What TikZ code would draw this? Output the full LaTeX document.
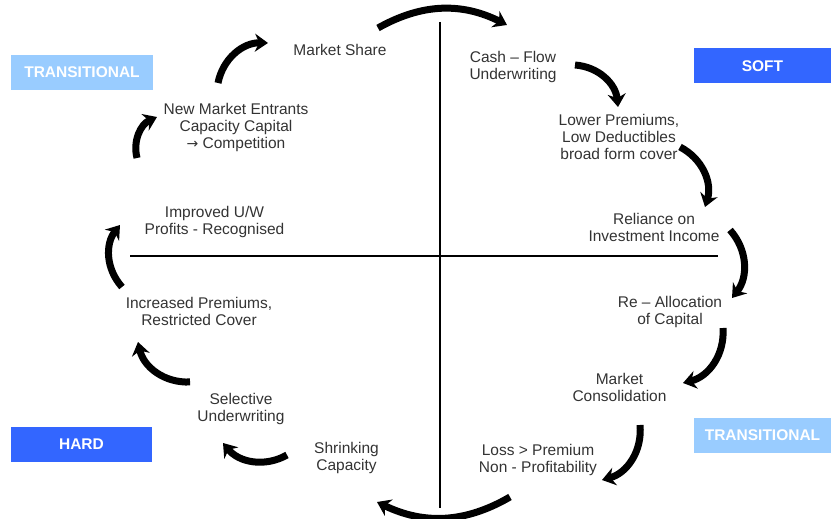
\documentclass[tikz,border=0pt]{standalone}
\usepackage{fontspec}
\setmainfont{Liberation Sans}
\newfontfamily\arrowfont{DejaVu Sans}
\usetikzlibrary{arrows.meta,positioning}
\definecolor{softblue}{HTML}{3366FF}
\definecolor{paleblue}{HTML}{99CCFF}

\begin{document}
\begin{tikzpicture}[x=1pt,y=1pt,phase/.style={align=center,inner sep=0pt,text=black!80,font=\fontsize{15.5}{17}\selectfont}, axis/.style={line width=2.8pt,black}, cyc/.style={line width=7pt,black,-{Stealth[length=13pt,width=18pt]}}, stagebox/.style={inner sep=0pt,text=white,font=\fontsize{15.5}{16}\selectfont\bfseries,minimum height=35pt}, hot/.style={stagebox,fill=softblue}, mild/.style={stagebox,fill=paleblue}]
\useasboundingbox (0,0) rectangle (831,519);

% axes
\coordinate (vtop) at (440,497);
\coordinate (vbot) at (440,11);
\coordinate (hleft) at (130,263);
\coordinate (hright) at (718,263);
\draw [axis] (vtop) -- (vbot);
\draw [axis] (hleft) -- (hright);

% market phases
\node(tl)[mild,minimum width=142pt] at (82,446.5){TRANSITIONAL};
\node(soft)[hot,minimum width=137pt] at (762.5,453){SOFT};
\node(hard)[hot,minimum width=141pt] at (81.5,74.5){HARD};
\node(br)[mild,minimum width=137pt] at (762.5,83.5){TRANSITIONAL};

% cycle labels
\node(ms)[phase] at (340,469){Market Share};
\node(cash)[phase] at (513,452.5){Cash – Flow\\Underwriting};
\node(lower)[phase] at (619,382){Lower Premiums,\\Low Deductibles\\broad form cover};
\node(rel)[phase] at (654,291.5){Reliance on\\Investment Income};
\node(realloc)[phase] at (670,207.5){Re – Allocation\\of Capital};
\node(cons)[phase] at (619.5,131.5){Market\\Consolidation};
\node(loss)[phase] at (538,59){Loss > Premium\\Non - Profitability};
\node(shrink)[phase] at (346.5,61){Shrinking\\Capacity};
\node(sel)[phase] at (241,110.5){Selective\\Underwriting};
\node(incr)[phase] at (199,207.5){Increased Premiums,\\Restricted Cover};
\node(impr)[phase] at (214.5,297){Improved U/W\\Profits - Recognised};
\node(entr)[phase] at (236,392){New Market Entrants\\Capacity Capital\\{\arrowfont\fontsize{14}{17}\selectfont →} Competition};

% arrow ends
\coordinate (a1) at (378,491); \coordinate (b1) at (507,494);
\coordinate (a2) at (575,454); \coordinate (b2) at (618,412);
\coordinate (a3) at (680,372); \coordinate (b3) at (705,312);
\coordinate (a4) at (730,289); \coordinate (b4) at (732,221);
\coordinate (a5) at (723,191); \coordinate (b5) at (683,136);
\coordinate (a6) at (640,94);  \coordinate (b6) at (602,39);
\coordinate (a7) at (510,22);  \coordinate (b7) at (377,17);
\coordinate (a8) at (287,64);  \coordinate (b8) at (223,76);
\coordinate (a9) at (190,137); \coordinate (b9) at (138,177);
\coordinate (a10) at (122,232); \coordinate (b10) at (120,294);
\coordinate (a11) at (137,361); \coordinate (b11) at (157,402);
\coordinate (a12) at (218,436); \coordinate (b12) at (268,476);

\foreach \i/\b in {1/28,2/40,3/40,4/40,5/40,6/40,7/28,8/40,9/40,10/40,11/40,12/40}
  \draw [cyc] (a\i) to[bend left=\b] (b\i);
\end{tikzpicture}
\end{document}
